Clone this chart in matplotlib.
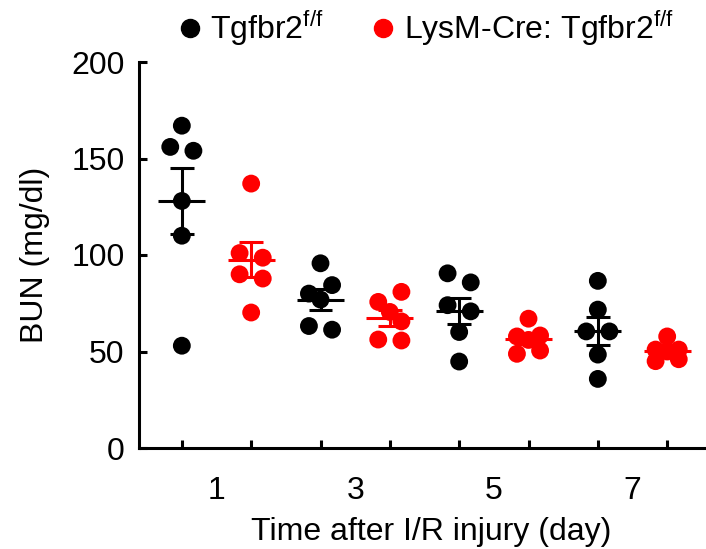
import matplotlib
matplotlib.use("Agg")
import matplotlib.pyplot as plt
import numpy as np

plt.rcParams['font.family'] = ['Liberation Sans', 'DejaVu Sans']
plt.rcParams['mathtext.fontset'] = 'custom'
plt.rcParams['mathtext.rm'] = 'Liberation Sans'

# BUN values (mg/dl), 6 mice per group
days = ['1', '3', '5', '7']
ctrl = [
    [167, 156, 154, 128, 110, 53],
    [95.7, 84.4, 80.0, 76.9, 63.2, 61.3],
    [90.5, 85.8, 74.0, 70.8, 60.1, 44.8],
    [86.6, 71.7, 60.4, 60.4, 48.4, 35.8],
]
ko = [
    [137, 101, 98.6, 90, 87.8, 70.2],
    [80.9, 75.7, 70.5, 65.6, 56.2, 55.7],
    [67, 58.3, 57.8, 56, 50.5, 48.8],
    [57.8, 51, 51, 50, 46, 45],
]
labels = [r'Tgfbr2$^{\mathregular{f/f}}$', r'LysM-Cre: Tgfbr2$^{\mathregular{f/f}}$']
colors = ['black', 'red']


def spread(vals, gap=6.2, step=0.167):
    # prism-like scatter: points closer than `gap` get pushed sideways
    order = np.argsort(vals)[::-1]
    v = np.array(vals, dtype=float)[order]
    groups = [[0]]
    for i in range(1, len(v)):
        if v[i - 1] - v[i] < gap:
            groups[-1].append(i)
        else:
            groups.append([i])
    off = np.zeros(len(v))
    for g in groups:
        if len(g) == 1:
            pat = [0]
        elif len(g) == 2:
            pat = [-1, 1]
        else:
            pat = [[1, -1, 0][k % 3] for k in range(len(g))]
        for k, idx in enumerate(g):
            off[idx] = pat[k] * step
    res = np.zeros(len(v))
    res[order] = off
    return res


fig = plt.figure(figsize=(7.06, 5.49), dpi=100)
ax = fig.add_axes([138.5 / 706, 101 / 549, 1 - 138.5 / 706, 386 / 549])

lw = 2.2
for d in range(len(days)):
    for j, data in enumerate([ctrl, ko]):
        pos = 2 * d + j
        vals = np.array(data[d])
        xs = pos + spread(vals)
        ax.scatter(xs, vals, s=165, color=colors[j], edgecolors='none', zorder=3)
        m = vals.mean()
        sem = vals.std(ddof=1) / np.sqrt(len(vals))
        ax.plot([pos - 0.34, pos + 0.34], [m, m], color=colors[j], lw=lw, zorder=4, solid_capstyle='butt')
        ax.plot([pos, pos], [m - sem, m + sem], color=colors[j], lw=lw, zorder=4, solid_capstyle='butt')
        for c in [m - sem, m + sem]:
            ax.plot([pos - 0.17, pos + 0.17], [c, c], color=colors[j], lw=lw, zorder=4, solid_capstyle='butt')

ax.set_xlim(-0.625, 7.56)
ax.set_ylim(0, 200)
ax.spines['top'].set_visible(False)
ax.spines['right'].set_visible(False)
ax.spines['left'].set_linewidth(lw)
ax.spines['bottom'].set_linewidth(lw)

ax.set_yticks([0, 50, 100, 150, 200])
ax.tick_params(axis='y', direction='in', length=6, width=lw, labelsize=23, pad=10)
ax.set_xticks(np.arange(8))
ax.set_xticklabels([])
ax.set_xticks([0.5, 2.5, 4.5, 6.5], minor=True)
ax.set_xticklabels(days, minor=True)
ax.tick_params(axis='x', which='major', direction='in', length=6, width=lw)
ax.tick_params(axis='x', which='minor', length=0, labelsize=23, pad=20)

ax.set_ylabel('BUN (mg/dl)', fontsize=23, labelpad=15)
ax.set_xlabel('Time after I/R injury (day)', fontsize=23)
ax.xaxis.set_label_coords(0.515, -0.178, transform=ax.transAxes)

handles = [plt.Line2D([], [], marker='o', ls='none', color=c, markersize=13) for c in colors]
fig.legend(handles, labels, loc='center', bbox_to_anchor=(0.598, 0.948), ncol=2,
           frameon=False, fontsize=23, handletextpad=0.05, columnspacing=1.25, handlelength=1.2)

fig.savefig('out.png', dpi=100)
